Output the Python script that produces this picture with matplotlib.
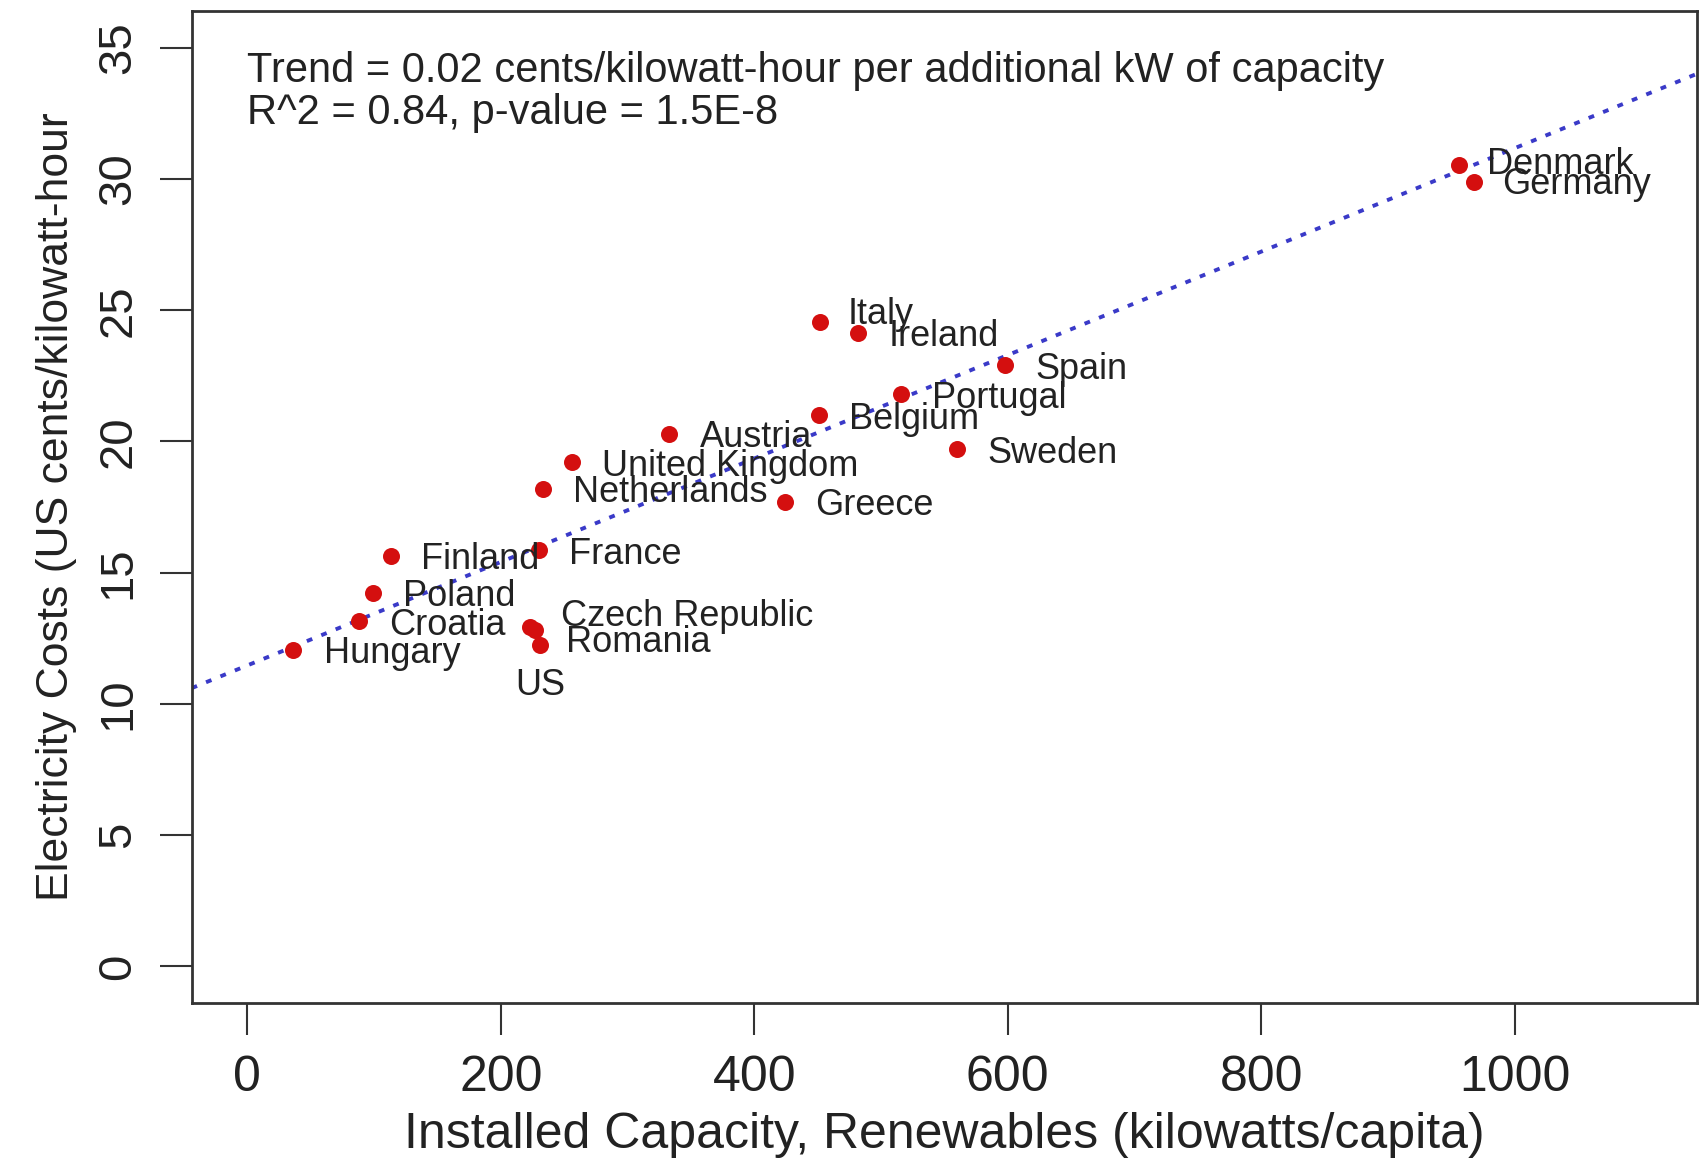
import matplotlib
matplotlib.use("Agg")
import matplotlib.pyplot as plt
import numpy as np

countries = ["Denmark", "Germany", "Italy", "Ireland", "Spain", "Portugal", "Belgium",
             "Sweden", "Austria", "United Kingdom", "Netherlands", "Greece", "Finland",
             "France", "Poland", "Croatia", "Hungary", "Czech Republic", "Romania", "US"]
capacity = [956, 968, 452, 482, 598, 516, 451, 560, 333, 256, 233, 424, 113, 230,
            99, 88, 36, 223, 227, 231]
cost = [30.55, 29.9, 24.56, 24.15, 22.9, 21.8, 21.0, 19.7, 20.3, 19.2, 18.2, 17.7,
        15.65, 15.86, 14.24, 13.16, 12.07, 12.95, 12.8, 12.24]

trend_slope = 0.0197
trend_intercept = 11.47

x_ticks = [0, 200, 400, 600, 800, 1000]
y_ticks = [0, 5, 10, 15, 20, 25, 30, 35]

x_label = "Installed Capacity, Renewables (kilowatts/capita)"
y_label = "Electricity Costs (US cents/kilowatt-hour"
note1 = "Trend = 0.02 cents/kilowatt-hour per additional kW of capacity"
note2 = "R^2 = 0.84, p-value = 1.5E-8"

# label offsets in points (layout only)
label_offsets = {c: (22, 0) for c in countries}
label_offsets["Italy"] = (20, 8)
label_offsets["Denmark"] = (20, 3)
label_offsets["Germany"] = (20, 1)
label_offsets["Czech Republic"] = (22, 10)
label_offsets["Romania"] = (22, -6)

plt.rcParams['font.family'] = ['Liberation Sans', 'DejaVu Sans']
txt_color = "#222222"

fig = plt.figure(figsize=(17.08, 11.64), dpi=100)
ax = fig.add_axes([0.1122, 0.1381, 0.8814, 0.8525])

xlim = (0 - 0.04 * 1100, 1100 + 0.04 * 1100)
ylim = (0 - 0.04 * 35, 35 + 0.04 * 35)
ax.set_xlim(*xlim)
ax.set_ylim(*ylim)

xs = np.array(xlim)
ax.plot(xs, trend_intercept + trend_slope * xs, linestyle=(0, (1.5, 2.5)),
        color="#3a3ac8", lw=2.8, zorder=2)

ax.scatter(capacity, cost, s=150, color="#d40f0f", zorder=3, linewidths=0)

for c, x, y in zip(countries, capacity, cost):
    if c == "US":
        ax.annotate(c, (x, y), xytext=(0, -26), textcoords="offset points",
                    ha="center", va="center_baseline", fontsize=26, color=txt_color, zorder=4)
    else:
        ax.annotate(c, (x, y), xytext=label_offsets[c], textcoords="offset points",
                    ha="left", va="center_baseline", fontsize=26, color=txt_color, zorder=4)

ax.text(0, 34.3, note1, ha="left", va="center_baseline", fontsize=30, color=txt_color)
ax.text(0, 32.7, note2, ha="left", va="center_baseline", fontsize=30, color=txt_color)

for sp in ax.spines.values():
    sp.set_linewidth(2.0)
    sp.set_color("#333333")

ax.set_xticks(x_ticks)
ax.set_xticklabels([str(v) for v in x_ticks])
ax.set_yticks(y_ticks)
ax.set_yticklabels([str(v) for v in y_ticks], rotation=90, va="center")
ax.tick_params(axis="x", direction="out", length=23, width=1.5, color="#333333",
               labelsize=36, pad=14, labelcolor=txt_color)
ax.tick_params(axis="y", direction="out", length=23, width=1.5, color="#333333",
               labelsize=34, pad=14, labelcolor=txt_color)

ax.set_xlabel(x_label, fontsize=36, color=txt_color, labelpad=8)
ax.set_ylabel(y_label, fontsize=32, color=txt_color, labelpad=14)

fig.savefig("out.png", dpi=100)
